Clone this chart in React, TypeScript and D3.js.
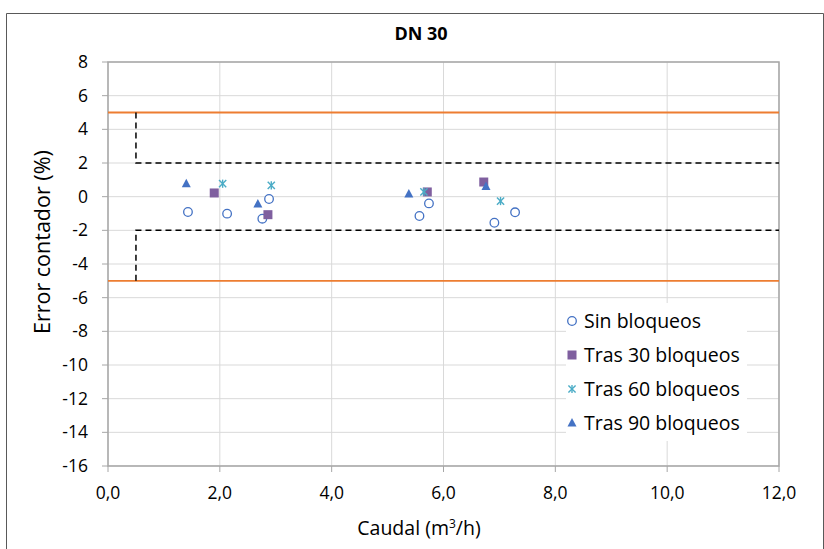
import React from "react";
import * as d3 from "d3";

// datos (caudal m3/h, error %)
const sinX = [1.43, 2.13, 2.76, 2.88, 5.57, 5.74, 6.91, 7.28];
const sinY = [-0.91, -1.01, -1.31, -0.14, -1.15, -0.4, -1.55, -0.93];
const tras30X = [1.9, 2.86, 5.71, 6.72];
const tras30Y = [0.22, -1.07, 0.28, 0.87];
const tras60X = [2.05, 2.92, 5.65, 7.02];
const tras60Y = [0.77, 0.67, 0.28, -0.26];
const tras90X = [1.4, 2.68, 5.38, 6.76];
const tras90Y = [0.77, -0.44, 0.16, 0.61];

const xTicks = [0, 2, 4, 6, 8, 10, 12];
const yTicks = [8, 6, 4, 2, 0, -2, -4, -6, -8, -10, -12, -14, -16];
const limiteMax = [5, -5];
// banda interior: desde caudal 0,5
const bandaX = [0.5, 12];
const bandaY = [2, -2];

const seriesNames = ["Sin bloqueos", "Tras 30 bloqueos", "Tras 60 bloqueos", "Tras 90 bloqueos"];

const font = "'Open Sans', 'Noto Sans', sans-serif";

function Marker({ kind, x, y }: { kind: number; x: number; y: number }) {
  if (kind === 0)
    return <circle cx={x} cy={y} r={4.3} fill="white" stroke="#4472C4" strokeWidth={1.3} />;
  if (kind === 1)
    return <rect x={x - 4.5} y={y - 4.5} width={9} height={9} fill="#7F5F9F" />;
  if (kind === 2) {
    const s = 3.6;
    return (
      <g stroke="#4BACC6" strokeWidth={1.4}>
        <line x1={x - s} y1={y - s} x2={x + s} y2={y + s} />
        <line x1={x - s} y1={y + s} x2={x + s} y2={y - s} />
        <line x1={x} y1={y - s - 0.5} x2={x} y2={y + s + 0.5} />
      </g>
    );
  }
  return <path d={`M${x},${y - 5}L${x + 4.5},${y + 3.5}L${x - 4.5},${y + 3.5}Z`} fill="#4472C4" />;
}

export default function App() {
  const W = 824, H = 549;
  const left = 108, right = 779, top = 62, bottom = 466;
  const x = d3.scaleLinear().domain([0, 12]).range([left, right]);
  const y = d3.scaleLinear().domain([-16, 8]).range([bottom, top]);

  const series = [
    { xs: sinX, ys: sinY },
    { xs: tras30X, ys: tras30Y },
    { xs: tras60X, ys: tras60Y },
    { xs: tras90X, ys: tras90Y },
  ];

  const bx0 = x(bandaX[0]);
  const bx1 = x(bandaX[1]);

  return (
    <svg width={W} height={H} style={{ position: "absolute", left: 0, top: 0, fontFamily: font }}>
      <rect x={0} y={0} width={W} height={H} fill="white" />
      <path d={`M6.5,${H}V13.5H823.5V${H}`} fill="none" stroke="#595959" strokeWidth={1} />

      {/* rejilla */}
      {yTicks.map((t) => (
        <line key={"gy" + t} x1={left} x2={right} y1={y(t)} y2={y(t)} stroke="#D9D9D9" />
      ))}
      {xTicks.map((t) => (
        <line key={"gx" + t} x1={x(t)} x2={x(t)} y1={top} y2={bottom} stroke="#D9D9D9" />
      ))}

      {/* ejes */}
      <rect x={left} y={top} width={right - left} height={bottom - top} fill="none" stroke="#A6A6A6" strokeWidth={1.5} />
      {yTicks.map((t) => (
        <g key={"ty" + t}>
          <line x1={left - 6} x2={left} y1={y(t)} y2={y(t)} stroke="#A6A6A6" />
          <text x={left - 20} y={y(t)} dy="0.35em" textAnchor="end" fontSize={17.5} fill="#000">
            {String(t)}
          </text>
        </g>
      ))}
      {xTicks.map((t) => (
        <g key={"tx" + t}>
          <line x1={x(t)} x2={x(t)} y1={bottom} y2={bottom + 6} stroke="#A6A6A6" />
          <text x={x(t)} y={bottom + 33} textAnchor="middle" fontSize={17.5} fill="#000">
            {d3.format(".1f")(t).replace(".", ",")}
          </text>
        </g>
      ))}

      {/* límites */}
      {limiteMax.map((v) => (
        <line key={"lim" + v} x1={left} x2={right} y1={y(v)} y2={y(v)} stroke="#ED7D31" strokeWidth={1.8} />
      ))}
      <g stroke="#000" strokeWidth={1.5} strokeDasharray="6,4" fill="none">
        <path d={`M${bx0},${y(limiteMax[0])}V${y(bandaY[0])}H${bx1}`} />
        <path d={`M${bx0},${y(limiteMax[1])}V${y(bandaY[1])}H${bx1}`} />
      </g>

      {/* puntos */}
      {series.map((s, k) =>
        s.xs.map((v, i) => <Marker key={k + "-" + i} kind={k} x={x(v)} y={y(s.ys[i])} />)
      )}

      {/* leyenda */}
      <rect x={566} y={303} width={181} height={138} fill="white" />
      {seriesNames.map((n, i) => (
        <g key={n}>
          <Marker kind={i} x={572} y={321 + i * 34} />
          <text x={584} y={321 + i * 34} dy="0.35em" fontSize={19.5} fill="#000">
            {n}
          </text>
        </g>
      ))}

      <text x={421} y={40} textAnchor="middle" fontSize={18} fontWeight="bold" fill="#000">
        DN 30
      </text>
      <text x={419} y={535} textAnchor="middle" fontSize={19.5} fill="#000">
        Caudal (m<tspan dy="-7" fontSize={12}>3</tspan>
        <tspan dy="7">/h)</tspan>
      </text>
      <text transform="translate(50,334) rotate(-90)" textAnchor="start" fontSize={21.5} fill="#000">
        Error contador (%)
      </text>
    </svg>
  );
}
